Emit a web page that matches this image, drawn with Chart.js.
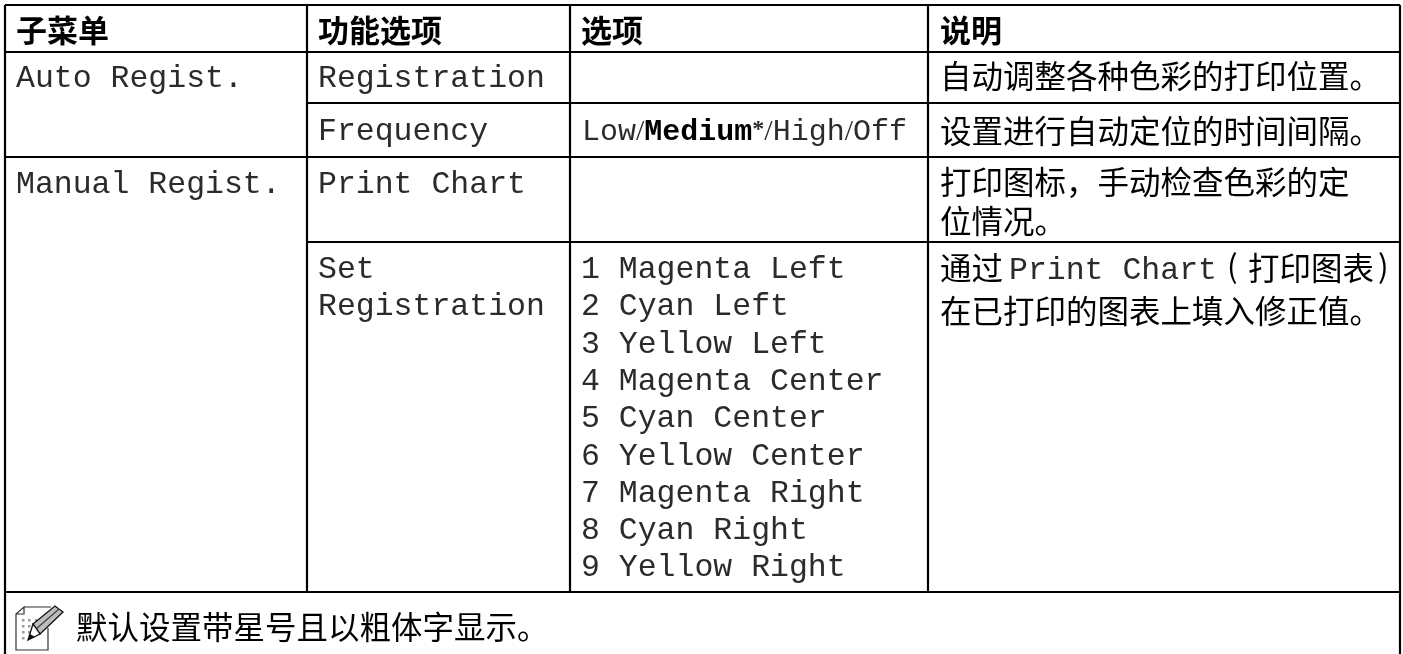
<!DOCTYPE html>
<html lang="zh-CN">

<head>
  <meta charset="UTF-8">
  <title>子菜单</title>
  <script src="https://cdn.jsdelivr.net/npm/chart.js"></script>
  <style>
    html, body { margin: 0; background: #fff; }
    canvas { display: block; }
  </style>
</head>

<body>
  <canvas id="menuTable" width="1403" height="654"></canvas>

  <script>
    // Table content
    const headers = ['子菜单', '功能选项', '选项', '说明'];
    const submenus = ['Auto Regist.', 'Manual Regist.'];
    const functionNames = ['Registration', 'Frequency', 'Print Chart', 'Set', 'Registration'];
    const frequencyOptions = [['Low', 'opt'], ['/', 'slash'], ['Medium', 'optBold'], ['*', 'star'],
      ['/', 'slash'], ['High', 'opt'], ['/', 'slash'], ['Off', 'opt']];
    const registrationOptions = ['1 Magenta Left', '2 Cyan Left', '3 Yellow Left', '4 Magenta Center',
      '5 Cyan Center', '6 Yellow Center', '7 Magenta Right', '8 Cyan Right', '9 Yellow Right'];
    const descriptions = ['自动调整各种色彩的打印位置。', '设置进行自动定位的时间间隔。', '打印图标，手动检查色彩的定', '位情况。'];
    const printChartNote = ['通过', 'Print Chart', '(', '打印图表', ')'];
    const printChartNote2 = '在已打印的图表上填入修正值。';
    const footNote = '默认设置带星号且以粗体字显示。';

    // Rule positions on the page grid
    const colX = [5, 307, 570, 928, 1400];
    const rowY = [5, 52, 103, 157, 242, 592, 654];

    const fonts = {
      head: 'bold 31px "Noto Sans CJK SC"',
      mono: '31.5px "Liberation Mono"',
      opt: '30px "Liberation Mono"',
      optBold: 'bold 30px "Liberation Mono"',
      slash: '30px "Liberation Serif"',
      star: 'bold 24px "Liberation Serif"',
      cjk: '31.5px "Noto Sans CJK SC"'
    };
    const inkMono = '#2b2b2b';

    function rule(x1, y1, x2, y2) {
      return {
        type: 'scatter',
        showLine: true,
        pointRadius: 0,
        borderColor: '#000',
        borderWidth: 2.2,
        data: [{ x: x1, y: y1 }, { x: x2, y: y2 }]
      };
    }

    const rules = [
      rule(colX[0], rowY[0], colX[4], rowY[0]),
      rule(colX[0], rowY[1], colX[4], rowY[1]),
      rule(colX[1], rowY[2], colX[4], rowY[2]),
      rule(colX[0], rowY[3], colX[4], rowY[3]),
      rule(colX[1], rowY[4], colX[4], rowY[4]),
      rule(colX[0], rowY[5], colX[4], rowY[5]),
      rule(colX[0], rowY[0], colX[0], rowY[6]),
      rule(colX[4], rowY[0], colX[4], rowY[6]),
      rule(colX[1], rowY[0], colX[1], rowY[5]),
      rule(colX[2], rowY[0], colX[2], rowY[5]),
      rule(colX[3], rowY[0], colX[3], rowY[5])
    ];

    // Draws the cell text and the note icon through the chart scales
    const tableText = {
      id: 'tableText',
      afterDatasetsDraw(chart) {
        const c = chart.ctx;
        const sx = v => chart.scales.x.getPixelForValue(v);
        const sy = v => chart.scales.y.getPixelForValue(v);
        c.save();
        c.textBaseline = 'alphabetic';

        const put = (text, font, x, y) => {
          c.font = fonts[font];
          c.fillStyle = font === 'cjk' || font === 'head' || font === 'optBold' ? '#000' : inkMono;
          c.fillText(text, sx(x), sy(y));
        };
        const putRuns = (runs, x, y) => {
          let cx = x;
          runs.forEach(([text, font]) => {
            put(text, font, cx, font === 'star' ? y - 4 : y);
            cx += c.measureText(text).width;
          });
        };

        const padX = [11, 11, 11, 12];
        headers.forEach((h, i) => put(h, 'head', colX[i] + padX[i], 42));

        put(submenus[0], 'mono', colX[0] + padX[0], 87);
        put(submenus[1], 'mono', colX[0] + padX[0], 193);

        put(functionNames[0], 'mono', colX[1] + padX[1], 87);
        put(functionNames[1], 'mono', colX[1] + padX[1], 140);
        put(functionNames[2], 'mono', colX[1] + padX[1], 193);
        put(functionNames[3], 'mono', colX[1] + padX[1], 278);
        put(functionNames[4], 'mono', colX[1] + padX[1], 315);

        putRuns(frequencyOptions, colX[2] + 12, 140);
        registrationOptions.forEach((t, i) => put(t, 'mono', colX[2] + padX[2], 278 + i * 37.3));

        put(descriptions[0], 'cjk', colX[3] + padX[3], 88);
        put(descriptions[1], 'cjk', colX[3] + padX[3], 143);
        put(descriptions[2], 'cjk', colX[3] + padX[3], 194);
        put(descriptions[3], 'cjk', colX[3] + padX[3], 233);
        put(printChartNote[0], 'cjk', colX[3] + padX[3], 280);
        put(printChartNote[1], 'mono', 1009, 279);
        put(printChartNote[2], 'cjk', 1227, 278);
        put(printChartNote[3], 'cjk', 1248, 280);
        put(printChartNote[4], 'cjk', 1378, 278);
        put(printChartNote2, 'cjk', colX[3] + padX[3], 323);

        put(footNote, 'cjk', 76, 639);

        // note icon: page with folded corner, dots and pencil
        c.strokeStyle = '#333';
        c.lineWidth = 1.2;
        c.beginPath();
        c.moveTo(sx(24), sy(607));
        c.lineTo(sx(51), sy(607));
        c.moveTo(sx(48), sy(628));
        c.lineTo(sx(48), sy(650));
        c.lineTo(sx(16), sy(650));
        c.lineTo(sx(16), sy(614));
        c.lineTo(sx(24), sy(607));
        c.lineTo(sx(24), sy(614));
        c.lineTo(sx(16), sy(614));
        c.stroke();
        c.fillStyle = '#9a9a9a';
        [[22, 619], [28, 619], [35, 619], [22, 625], [28, 625], [22, 631], [28, 631], [22, 637]].forEach(([x, y]) => {
          c.fillRect(sx(x), sy(y), 2.5, 2.5);
        });
        // pencil body
        c.fillStyle = '#bdbdbd';
        c.strokeStyle = '#111';
        c.lineWidth = 1.3;
        c.beginPath();
        c.moveTo(sx(33), sy(624));
        c.lineTo(sx(55), sy(606));
        c.lineTo(sx(63), sy(612));
        c.lineTo(sx(40), sy(634));
        c.closePath();
        c.fill();
        c.stroke();
        c.strokeStyle = '#444';
        c.beginPath();
        c.moveTo(sx(36), sy(629));
        c.lineTo(sx(59), sy(609));
        c.stroke();
        // pencil tip
        c.fillStyle = '#fff';
        c.strokeStyle = '#111';
        c.beginPath();
        c.moveTo(sx(33), sy(624));
        c.lineTo(sx(28), sy(640));
        c.lineTo(sx(40), sy(634));
        c.closePath();
        c.fill();
        c.stroke();
        c.fillStyle = '#111';
        c.beginPath();
        c.moveTo(sx(30), sy(634));
        c.lineTo(sx(28), sy(640));
        c.lineTo(sx(35), sy(637));
        c.closePath();
        c.fill();
        c.restore();
      }
    };

    new Chart(document.getElementById('menuTable').getContext('2d'), {
      type: 'scatter',
      data: { datasets: rules },
      options: {
        responsive: false,
        animation: false,
        layout: { padding: 0 },
        plugins: { legend: { display: false }, tooltip: { enabled: false } },
        scales: {
          x: { type: 'linear', min: 0, max: 1403, display: false },
          y: { type: 'linear', min: 0, max: 654, reverse: true, display: false }
        }
      },
      plugins: [tableText]
    });
  </script>
</body>

</html>
